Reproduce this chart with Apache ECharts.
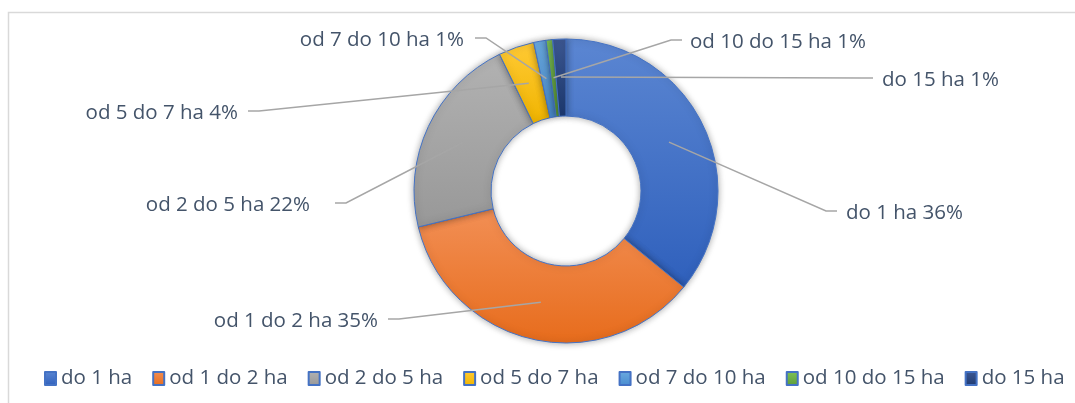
<!DOCTYPE html>
<html>
<head>
<meta charset="utf-8">
<script src="https://cdn.jsdelivr.net/npm/echarts@6/dist/echarts.min.js"></script>
<style>
  html, body { margin: 0; padding: 0; background: #fff; }
  #chart { width: 1075px; height: 403px; }
</style>
</head>
<body>
<div id="chart"></div>
<script>
// udział gospodarstw wg powierzchni
var categories = ['do 1 ha', 'od 1 do 2 ha', 'od 2 do 5 ha', 'od 5 do 7 ha', 'od 7 do 10 ha', 'od 10 do 15 ha', 'do 15 ha']
var shares = [35.9, 35.3, 21.6, 3.8, 1.3, 0.7, 1.4]

// kolory (gora / dol gradientu)
var topColors = ['#5b86d2', '#f28f55', '#b2b2b2', '#ffca35', '#6aaae0', '#7fc258', '#3d5893']
var bottomColors = ['#2f60bc', '#e76c1c', '#989898', '#f0b400', '#4a8ccf', '#5c9c38', '#1d3a72']

// polozenie etykiet: [x, y, align, odstep linii]
var labelSpots = [
  [846, 213, 'left', 9],
  [378, 321, 'right', 10],
  [310, 205, 'right', 25],
  [238, 113, 'right', 10],
  [464, 40, 'right', 11],
  [690, 42, 'left', 8],
  [882, 80, 'left', 9]
]

var textColor = '#44546a'
var fontFamily = '"Open Sans", "Noto Sans", sans-serif'

var chart = echarts.init(document.getElementById('chart'))

function gradient(i) {
  return new echarts.graphic.LinearGradient(0, 0, 0, 1, [
    { offset: 0, color: topColors[i] },
    { offset: 1, color: bottomColors[i] }
  ])
}

var ringData = categories.map(function(name, i) {
  return { name: name, value: shares[i], itemStyle: { color: gradient(i) }}
})
var labelData = categories.map(function(name, i) {
  return { name: name, value: shares[i] }
})

chart.setOption({
  animation: false,
  graphic: [{
    type: 'rect',
    shape: { x: 8.5, y: 12.5, width: 1200, height: 500 },
    style: { fill: 'none', stroke: '#d9d9d9', lineWidth: 1.5 },
    silent: true
  }],
  legend: {
    data: categories,
    left: 39,
    top: 363,
    width: 1100,
    icon: 'rect',
    itemWidth: 11,
    itemHeight: 13,
    itemGap: 20,
    selectedMode: false,
    textStyle: {
      color: textColor,
      fontFamily: fontFamily,
      fontSize: 20.5
    }
  },
  series: [{
    name: 'pierscien',
    type: 'pie',
    center: [566, 191],
    radius: [75, 152],
    startAngle: 90,
    clockwise: true,
    avoidLabelOverlap: false,
    silent: true,
    label: { show: false },
    labelLine: { show: false },
    itemStyle: {
      borderColor: '#4472c4',
      borderWidth: 1,
      shadowBlur: 7,
      shadowColor: 'rgba(0, 0, 0, 0.35)'
    },
    data: ringData
  }, {
    // niewidoczna warstwa tylko dla etykiet i linii odniesienia
    name: 'etykiety',
    type: 'pie',
    center: [566, 191],
    radius: [0, 114],
    startAngle: 90,
    clockwise: true,
    avoidLabelOverlap: false,
    silent: true,
    z: 3,
    itemStyle: { color: 'rgba(0,0,0,0)', borderWidth: 0 },
    label: {
      show: true,
      position: 'outside',
      color: textColor,
      fontFamily: fontFamily,
      fontSize: 20.5,
      formatter: function(p) {
        return p.name + ' ' + Math.round(p.percent) + '%'
      }
    },
    labelLine: {
      show: true,
      length: 10,
      length2: 10,
      lineStyle: { color: '#a6a6a6', width: 1.5 }
    },
    labelLayout: function(params) {
      var s = labelSpots[params.dataIndex]
      var toLeft = s[2] === 'right'
      var ax = toLeft ? s[0] + s[3] : s[0] - s[3]
      var ay = s[1] - 2
      var bend = toLeft ? ax + 11 : ax - 11
      var res = { x: s[0], y: s[1], align: s[2], verticalAlign: 'middle' }
      if (params.labelLinePoints && params.labelLinePoints[0]) {
        res.labelLinePoints = [params.labelLinePoints[0].slice(), [bend, ay], [ax, ay]]
      }
      return res
    },
    data: labelData
  }]
})
</script>
</body>
</html>
